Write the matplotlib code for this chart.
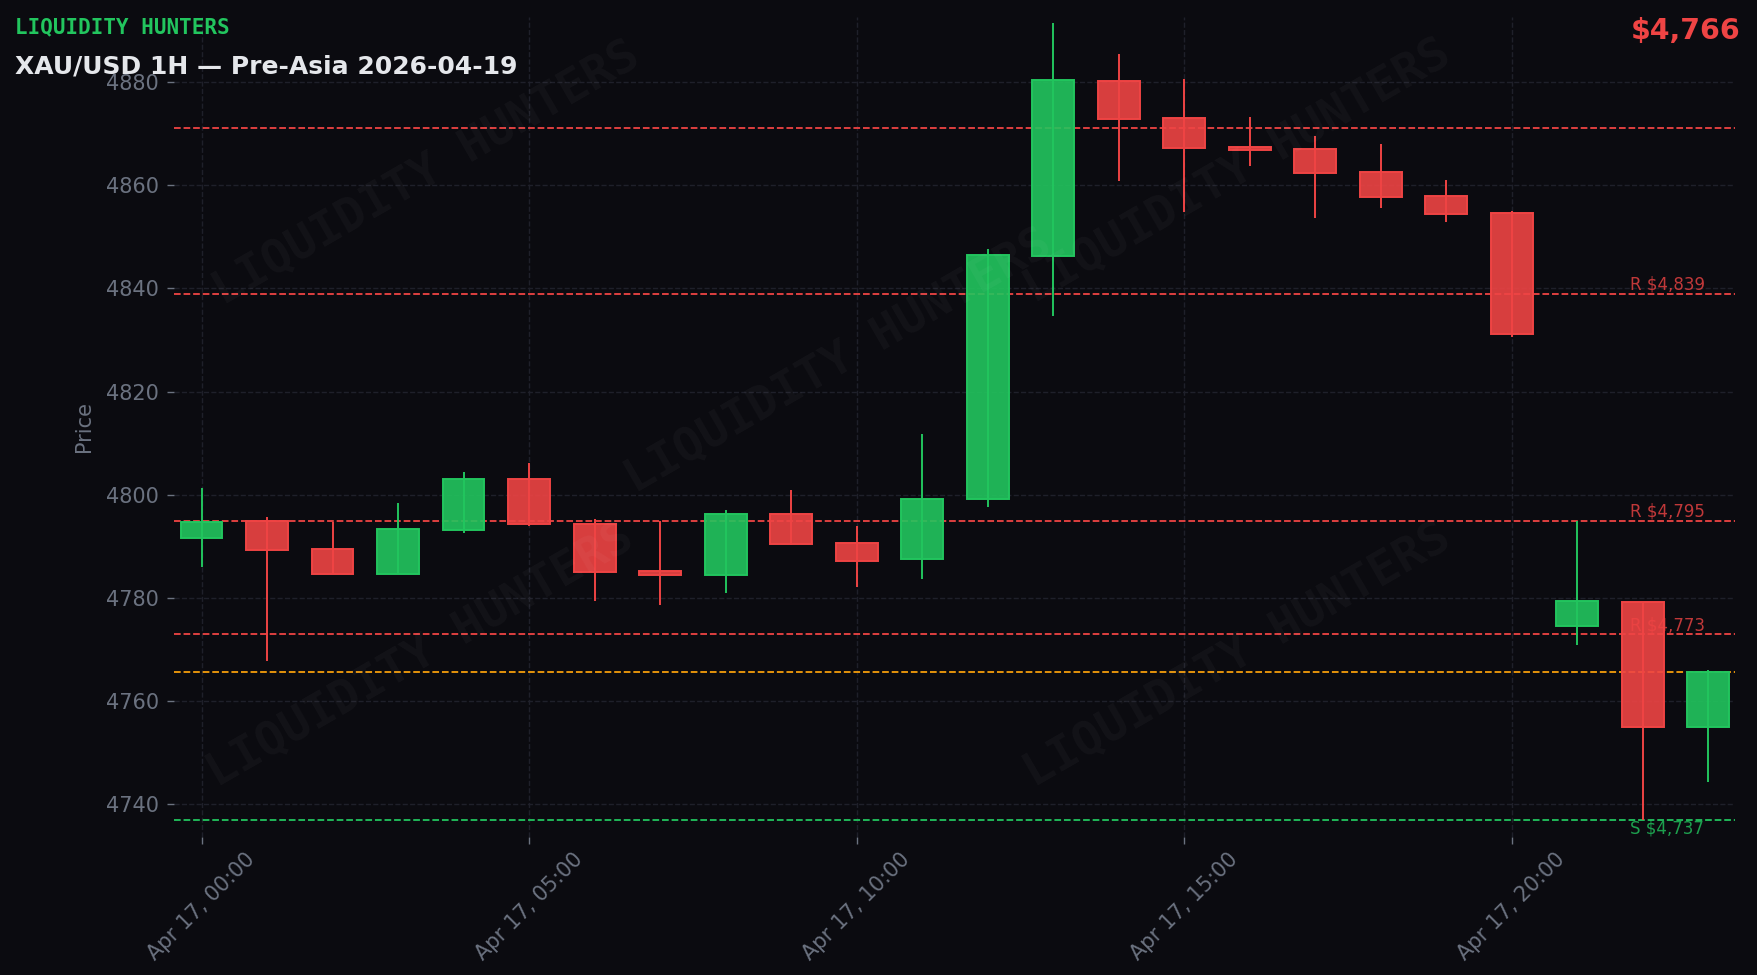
import matplotlib
matplotlib.use("Agg")
import matplotlib.pyplot as plt
import numpy as np

# ---------------- data ----------------
hours = ["00:00", "01:00", "02:00", "03:00", "04:00", "05:00", "06:00", "07:00",
         "08:00", "09:00", "10:00", "11:00", "12:00", "13:00", "14:00", "15:00",
         "16:00", "17:00", "18:00", "19:00", "20:00", "21:00", "22:00", "23:00"]
day_label = "Apr 17"
opens = [4791.6, 4795.0, 4789.6, 4784.6, 4793.1, 4803.0, 4794.4, 4785.2,
         4784.4, 4796.2, 4790.6, 4787.5, 4799.2, 4846.2, 4880.2, 4873.0,
         4867.5, 4867.1, 4862.5, 4857.9, 4854.6, 4774.6, 4779.3, 4755.1]
closes = [4794.8, 4789.4, 4784.6, 4793.3, 4803.0, 4794.3, 4785.0, 4784.4,
          4796.2, 4790.4, 4787.2, 4799.2, 4846.4, 4880.4, 4872.9, 4867.3,
          4866.9, 4862.4, 4857.7, 4854.5, 4831.1, 4779.4, 4755.1, 4765.6]
highs = [4801.3, 4795.7, 4794.8, 4798.4, 4804.4, 4806.2, 4795.3, 4795.0,
         4797.1, 4801.0, 4794.0, 4811.8, 4847.7, 4891.4, 4885.4, 4880.5,
         4873.3, 4869.5, 4867.9, 4861.1, 4855.1, 4794.9, 4779.3, 4766.0]
lows = [4786.0, 4767.9, 4784.6, 4784.6, 4792.7, 4793.9, 4779.4, 4778.7,
        4781.0, 4790.2, 4782.2, 4783.7, 4797.7, 4834.6, 4860.8, 4854.9,
        4863.7, 4853.6, 4855.5, 4852.8, 4830.5, 4770.9, 4736.9, 4744.3]

resistance_levels = [4871, 4839, 4795, 4773]
resistance_labeled = [False, True, True, True]
support_levels = [4737]
current_price = 4765.6

brand = "LIQUIDITY HUNTERS"
title = "XAU/USD 1H \u2014 Pre-Asia 2026-04-19"
price_text = "$4,766"
yticks = [4740, 4760, 4780, 4800, 4820, 4840, 4860, 4880]
xtick_idx = [0, 5, 10, 15, 20]

# ---------------- style ----------------
BG = "#0b0b10"
GREEN = "#22c55e"
RED = "#ef4444"
ORANGE = "#f59e0b"
GRID = "#1f202a"
TXT = "#6b7280"

W, H = 1758, 975
fig = plt.figure(figsize=(W / 100, H / 100), dpi=100, facecolor=BG)
ax = fig.add_axes([174 / W, 1 - 837 / H, (1735 - 174) / W, (837 - 17) / H])
ax.set_facecolor(BG)

x = np.arange(len(hours))
o = np.array(opens); c = np.array(closes)
hi = np.array(highs); lo = np.array(lows)
up = c >= o
cols = np.where(up, GREEN, RED)

# grid
ax.set_yticks(yticks)
ax.set_xticks(xtick_idx)
ax.set_xticklabels([f"{day_label}, {hours[i]}" for i in xtick_idx], rotation=45)
ax.grid(True, color=GRID, linestyle="--", linewidth=1.0, zorder=0)
ax.set_axisbelow(True)

# watermark
for fx, fy in [(426, 174), (1237, 172), (420, 656), (1237, 656), (838, 362)]:
    fig.text(fx / W, 1 - fy / H, brand, fontsize=34, family="DejaVu Sans Mono",
             fontweight="bold", color="white", alpha=0.035, rotation=30,
             ha="center", va="center", zorder=0)

# level lines
for lvl, lab in zip(resistance_levels, resistance_labeled):
    ax.axhline(lvl, color=RED, linestyle="--", linewidth=1.3, zorder=1)
    if lab:
        ax.text(21.8, lvl, f"R ${lvl:,}", color=RED, alpha=0.8, fontsize=12,
                ha="left", va="bottom", zorder=1)
for lvl in support_levels:
    ax.axhline(lvl, color=GREEN, linestyle="--", linewidth=1.3, zorder=1)
    ax.text(21.8, lvl, f"S ${lvl:,}", color=GREEN, alpha=0.8, fontsize=12,
            ha="left", va="top", zorder=1)
ax.axhline(current_price, color=ORANGE, linestyle="--", linewidth=1.3, zorder=1)

# candles
ax.vlines(x, lo, hi, colors=cols, linewidth=1.4, zorder=3)
body_h = np.maximum(np.abs(c - o), 0.4)
ax.bar(x, body_h, bottom=np.minimum(o, c), width=0.64,
       color=[matplotlib.colors.to_rgba(cc, 0.9) for cc in cols],
       edgecolor=cols, linewidth=1.4, zorder=4)

ax.set_xlim(-0.42, 23.41)
ax.set_ylim(4733.7, 4892.6)

for s in ax.spines.values():
    s.set_visible(False)
ax.tick_params(colors=TXT, labelsize=15, length=5, width=1)
ax.tick_params(axis="y", pad=6)
ax.set_ylabel("Price", color=TXT, fontsize=15, labelpad=8)

# header texts
fig.text(15 / W, 1 - 33 / H, brand, fontsize=15, family="DejaVu Sans Mono",
         fontweight="bold", color=GREEN, ha="left", va="baseline")
fig.text(15 / W, 1 - 74 / H, title, fontsize=18.0, fontweight="bold",
         color="#e5e7eb", ha="left", va="baseline")
fig.text(1741 / W, 1 - 39 / H, price_text, fontsize=20.5, fontweight="bold",
         color=RED, ha="right", va="baseline")

fig.savefig("out.png", dpi=100, facecolor=BG)
